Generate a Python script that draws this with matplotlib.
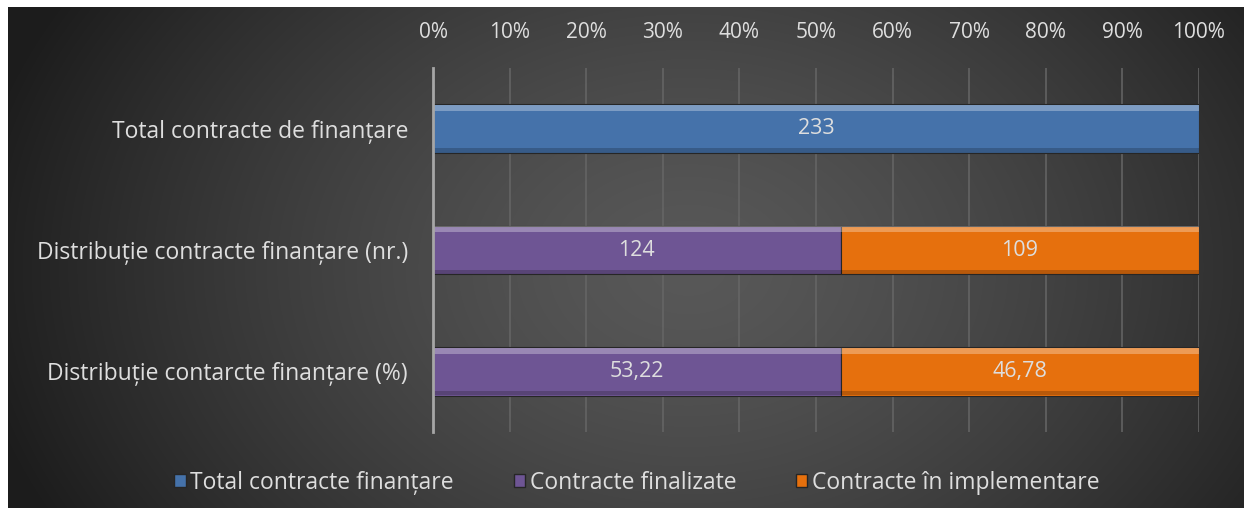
import numpy as np
import matplotlib.pyplot as plt
from matplotlib.patches import Patch

categories = ['Distribuție contarcte finanțare (%)',
              'Distribuție contracte finanțare (nr.)',
              'Total contracte de finanțare']
total_vals = [0, 0, 233]
finalizate_vals = [53.22, 124, 0]
implementare_vals = [46.78, 109, 0]
total_lbl = ['', '', '233']
finalizate_lbl = ['53,22', '124', '']
implementare_lbl = ['46,78', '109', '']
series_names = ['Total contracte finanțare', 'Contracte finalizate',
                'Contracte în implementare']
ticks = np.arange(0, 101, 10)

txt = '#dedede'
c_blue, c_purple, c_orange = '#4572aa', '#6e5594', '#e6700d'
plt.rcParams['font.family'] = ['Open Sans', 'DejaVu Sans']

W, H = 1252, 515
fig = plt.figure(figsize=(W / 100, H / 100), dpi=100, facecolor='white')

# radial gradient background
bg = fig.add_axes([8 / W, 7 / H, 1236 / W, 501 / H])
yy, xx = np.mgrid[0:501, 0:1236]
r = np.sqrt(((xx - 680) / 760.0) ** 2 + ((yy - 260) / 560.0) ** 2)
shade = np.clip(0.345 - 0.25 * r ** 1.4, 0.11, 0.35)
bg.imshow(np.dstack([shade] * 3), aspect='auto', extent=[0, 1, 0, 1])
bg.axis('off')

ax = fig.add_axes([433 / W, 1 - 432 / H, 766 / W, 364 / H])
ax.patch.set_alpha(0)

# convert to percent of each row
totals = np.array(total_vals) + np.array(finalizate_vals) + np.array(implementare_vals)
p_tot = np.array(total_vals) / totals * 100
p_fin = np.array(finalizate_vals) / totals * 100
p_imp = np.array(implementare_vals) / totals * 100

y = np.arange(len(categories))
h = 0.4
for vals, left, col, labs in [(p_tot, 0, c_blue, total_lbl),
                              (p_fin, 0, c_purple, finalizate_lbl),
                              (p_imp, p_fin, c_orange, implementare_lbl)]:
    lefts = np.zeros(3) + left
    bars = ax.barh(y, vals, left=lefts, height=h, color=col, edgecolor='#262626',
                   linewidth=0.8, zorder=3)
    # bevel: light top strip, dark bottom strip
    ax.barh(y + h / 2 - 0.03, vals, left=lefts, height=0.05, color='white',
            alpha=0.3, linewidth=0, zorder=4)
    ax.barh(y - h / 2 + 0.02, vals, left=lefts, height=0.035, color='black',
            alpha=0.2, linewidth=0, zorder=4)
    for b, lab in zip(bars, labs):
        if lab:
            ax.text(b.get_x() + b.get_width() / 2, b.get_y() + b.get_height() / 2,
                    lab, ha='center', va='center', color=txt, fontsize=15.5, zorder=5)

ax.set_xlim(0, 100)
ax.set_ylim(-0.5, 2.5)
ax.set_xticks(ticks)
ax.set_xticklabels(['%d%%' % t for t in ticks])
ax.xaxis.tick_top()
ax.tick_params(axis='x', length=0, pad=18, colors=txt, labelsize=15)
ax.set_yticks(y)
ax.set_yticklabels(categories)
ax.tick_params(axis='y', length=0, pad=18, colors=txt, labelsize=16.5)
ax.grid(axis='x', color='#666666', linewidth=1.1, zorder=0)
for s in ['top', 'right', 'bottom']:
    ax.spines[s].set_visible(False)
ax.spines['left'].set_color('#a6a6a6')
ax.spines['left'].set_linewidth(2)
ax.spines['left'].set_zorder(6)

handles = [Patch(facecolor=c, edgecolor='#262626') for c in (c_blue, c_purple, c_orange)]
fig.legend(handles, series_names, loc='center', bbox_to_anchor=(637 / W, 1 - 483 / H),
           ncol=3, frameon=False, fontsize=16.5, labelcolor=txt, handlelength=0.5,
           handleheight=0.5, handletextpad=0.2, columnspacing=2.6)

fig.savefig('out.png', dpi=100, facecolor='white')
